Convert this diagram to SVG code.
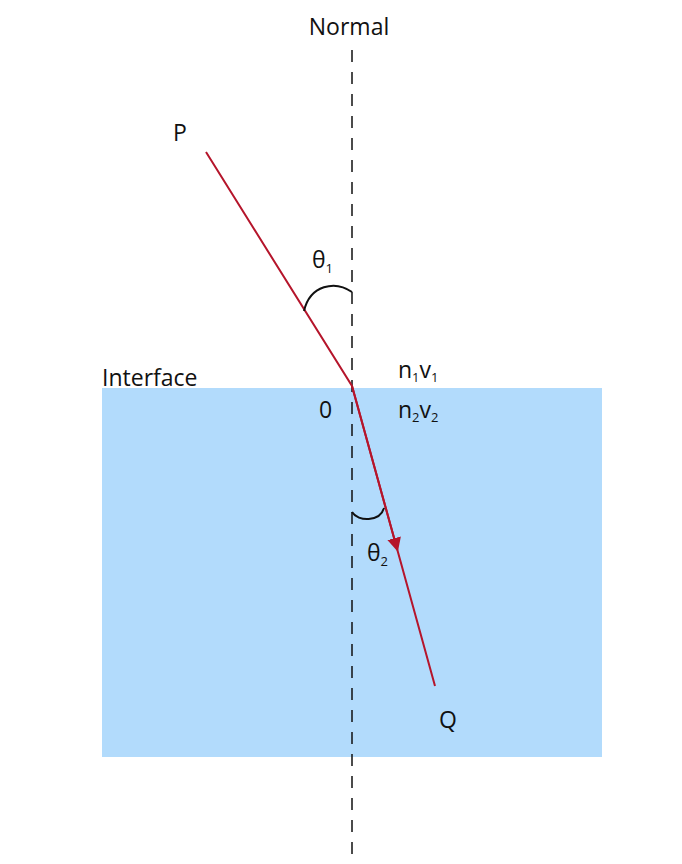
<svg xmlns="http://www.w3.org/2000/svg" width="682" height="864" viewBox="0 0 682 864">
<style>
text{font-family:"Open Sans","Noto Sans",sans-serif;font-size:23px;fill:#111}
.s{font-size:13px}
.ray{stroke:#b5152b;stroke-width:2;fill:none}
.arc{stroke:#111;stroke-width:2;fill:none}
</style>
<defs><marker id="ah" viewBox="0 0 10 10" refX="5" refY="5" markerWidth="7" markerHeight="7" orient="auto"><path d="M0,0L10,5L0,10z" fill="#b5152b"/></marker></defs>
<rect width="682" height="864" fill="#fff"/>
<g id="medium"><rect x="102" y="388" width="500" height="369" fill="#b2dbfc"/></g>
<g id="connectors">
<line x1="352" y1="50" x2="352" y2="860" stroke="#111" stroke-width="1.5" stroke-dasharray="12,10"/>
<path class="ray" d="M206,152L352,386L435,686"/>
<path class="ray" d="M352,386L396,545" marker-end="url(#ah)"/>
<path class="arc" d="M304,311C310,285 335,280 352,292"/>
<path class="arc" d="M352,512C358,522 380,522 384,508"/>
</g>
<g id="labels">
<text x="349" y="35" text-anchor="middle">Normal</text>
<text x="173" y="141">P</text>
<text x="312" y="268">θ<tspan class="s" dy="5">1</tspan></text>
<text x="102" y="386">Interface</text>
<text x="398" y="378">n<tspan class="s" dy="4">1</tspan><tspan dy="-4">v</tspan><tspan class="s" dy="4">1</tspan></text>
<text x="319" y="418">0</text>
<text x="398" y="418">n<tspan class="s" dy="4">2</tspan><tspan dy="-4">v</tspan><tspan class="s" dy="4">2</tspan></text>
<text x="367" y="561">θ<tspan class="s" dy="5">2</tspan></text>
<text x="439" y="728">Q</text>
</g>
</svg>
